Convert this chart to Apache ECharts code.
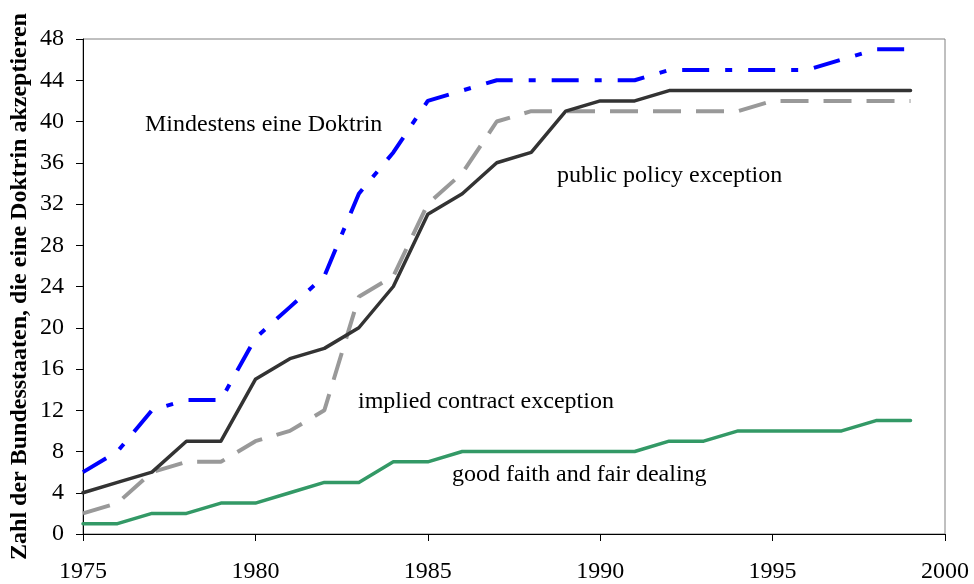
<!DOCTYPE html>
<html>
<head>
<meta charset="utf-8">
<script src="https://cdn.jsdelivr.net/npm/echarts@6/dist/echarts.min.js"></script>
<style>html,body{margin:0;padding:0;background:#fff;}#c{width:974px;height:584px;}</style>
</head>
<body>
<div id="c"></div>
<script>
const years = [1975,1976,1977,1978,1979,1980,1981,1982,1983,1984,1985,1986,1987,1988,1989,1990,1991,1992,1993,1994,1995,1996,1997,1998,1999];
const mindestens = [6,8,12,13,13,19,22,25,33,37,42,43,44,44,44,44,44,45,45,45,45,45,46,47,47];
const publicPolicy = [4,5,6,9,9,15,17,18,20,24,31,33,36,37,41,42,42,43,43,43,43,43,43,43,43];
const impliedContract = [2,3,6,7,7,9,10,12,23,25,32,35,40,41,41,41,41,41,41,41,42,42,42,42,42];
const goodFaith = [1,1,2,2,3,3,4,5,5,7,7,8,8,8,8,8,8,9,9,10,10,10,10,11,11];
const xTicks = [1975,1980,1985,1990,1995,2000];
const yTicks = [0,4,8,12,16,20,24,28,32,36,40,44,48];
const yTitle = 'Zahl der Bundesstaaten, die eine Doktrin akzeptieren';
const labels = [
  {text:'Mindestens eine Doktrin', x:145, y:125},
  {text:'public policy exception', x:557, y:176},
  {text:'implied contract exception', x:358, y:402},
  {text:'good faith and fair dealing', x:452, y:475}
];

const pairs = arr => years.map((y,i)=>[y, arr[i]]);
const serif = '"Liberation Serif", "Times New Roman", serif';

const chart = echarts.init(document.getElementById('c'), null, {renderer:'canvas'});
chart.setOption({
  animation:false,
  backgroundColor:'#ffffff',
  grid:{left:83, right:29, top:39, bottom:50, show:true, borderColor:'#808080', borderWidth:1,
        backgroundColor:'transparent', containLabel:false, outerBoundsMode:'none'},
  xAxis:{
    type:'value', min:xTicks[0], max:xTicks[xTicks.length-1], interval:5,
    axisLine:{show:true, onZero:false, lineStyle:{color:'#000', width:1}},
    axisTick:{show:true, length:7, lineStyle:{color:'#000'}},
    axisLabel:{color:'#000', fontFamily:serif, fontSize:24, margin:26, formatter: v=>String(v), hideOverlap:false},
    splitLine:{show:false}
  },
  yAxis:{
    type:'value', min:yTicks[0], max:yTicks[yTicks.length-1], interval:4,
    name:yTitle, nameLocation:'middle', nameRotate:90, nameGap:51, nameMoveOverlap:false,
    nameTextStyle:{color:'#000', fontFamily:serif, fontSize:24, fontWeight:'bold'},
    axisLine:{show:true, lineStyle:{color:'#000', width:1}},
    axisTick:{show:true, length:7, lineStyle:{color:'#000'}},
    axisLabel:{color:'#000', fontFamily:serif, fontSize:24, margin:19},
    splitLine:{show:false}
  },
  series:[
    {name:'good faith and fair dealing', type:'line', data:pairs(goodFaith), showSymbol:false, symbol:'none',
     lineStyle:{color:'#339966', width:3.5, cap:'round', join:'round'}, z:2},
    {name:'implied contract exception', type:'line', data:pairs(impliedContract), showSymbol:false, symbol:'none',
     lineStyle:{color:'#999999', width:4, type:[28,15], cap:'butt'}, z:3},
    {name:'public policy exception', type:'line', data:pairs(publicPolicy), showSymbol:false, symbol:'none',
     lineStyle:{color:'#333333', width:3.5, cap:'round', join:'round'}, z:4},
    {name:'Mindestens eine Doktrin', type:'line', data:pairs(mindestens), showSymbol:false, symbol:'none',
     lineStyle:{color:'#0000ff', width:4, type:[27,16,7,16], cap:'butt'}, z:5}
  ],
  graphic: labels.map(l=>({type:'text', x:l.x, y:l.y, silent:true,
    style:{text:l.text, fill:'#000', font:'24px ' + serif, textAlign:'left', textVerticalAlign:'middle'}}))
});
</script>
</body>
</html>
